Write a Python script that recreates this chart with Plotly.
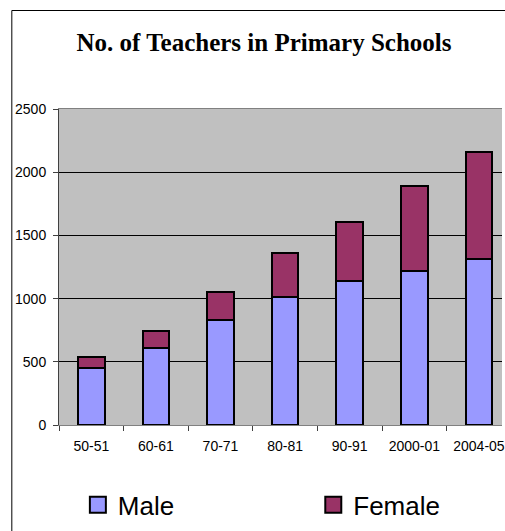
import plotly.graph_objects as go

years = ["50-51", "60-61", "70-71", "80-81", "90-91", "2000-01", "2004-05"]
male = [450, 610, 830, 1015, 1140, 1218, 1316]
female = [88, 131, 225, 343, 470, 673, 844]

male_color = "#9999FF"
female_color = "#993366"

fig = go.Figure()
fig.add_trace(go.Bar(x=years, y=male, name="Male", showlegend=False,
                     marker=dict(color=male_color, line=dict(color="black", width=2))))
fig.add_trace(go.Bar(x=years, y=female, name="Female", showlegend=False,
                     marker=dict(color=female_color, line=dict(color="black", width=2))))

# legend entries with bigger square swatches
fig.add_trace(go.Scatter(x=[None], y=[None], mode="markers", name="Male", legend="legend",
                         marker=dict(symbol="square", size=16, color=male_color,
                                     line=dict(color="black", width=2))))
fig.add_trace(go.Scatter(x=[None], y=[None], mode="markers", name="Female", legend="legend2",
                         marker=dict(symbol="square", size=16, color=female_color,
                                     line=dict(color="black", width=2))))

legend_style = dict(orientation="h", xanchor="left", y=-0.253, yanchor="middle",
                    font=dict(size=26), bgcolor="rgba(0,0,0,0)")

fig.update_layout(
    barmode="stack",
    bargap=0.59,
    width=505,
    height=531,
    margin=dict(l=59, r=0, t=109, b=106),
    plot_bgcolor="#C0C0C0",
    paper_bgcolor="white",
    font=dict(family="Liberation Sans, Arial", size=14, color="black"),
    title=dict(text="<b>No. of Teachers in Primary Schools</b>",
               font=dict(family="Liberation Serif, Times New Roman", size=25, color="black"),
               x=264 / 505, xanchor="center", y=1 - 42 / 531, yanchor="middle"),
    showlegend=True,
    legend=dict(x=0.0426, **legend_style),
    legend2=dict(x=0.574, **legend_style),
    # outer chart border, cut by the window on the right and bottom
    shapes=[dict(type="path", xref="paper", yref="paper", layer="above",
                 path="M -0.1065,-0.5 L -0.1065,1.3117 L 1.2,1.3117",
                 line=dict(color="black", width=1))],
)

fig.update_xaxes(type="category", range=[-0.5, 6.357], tickson="boundaries",
                 ticks="outside", ticklen=5, tickcolor="#404040", showline=True,
                 linecolor="#808080", mirror=True, showgrid=False, ticklabelstandoff=8)
fig.update_yaxes(range=[0, 2500], dtick=500, ticks="outside", ticklen=5, tickcolor="#404040",
                 showline=True, linecolor="#404040", gridcolor="black", gridwidth=1,
                 zeroline=False, ticklabelstandoff=4)

# drop the page margin so the figure sits at the window's corner
fig.write_html("out.html", config={"displayModeBar": False},
               post_script="document.body.style.margin='0';"
                           "document.documentElement.style.overflow='hidden';")
